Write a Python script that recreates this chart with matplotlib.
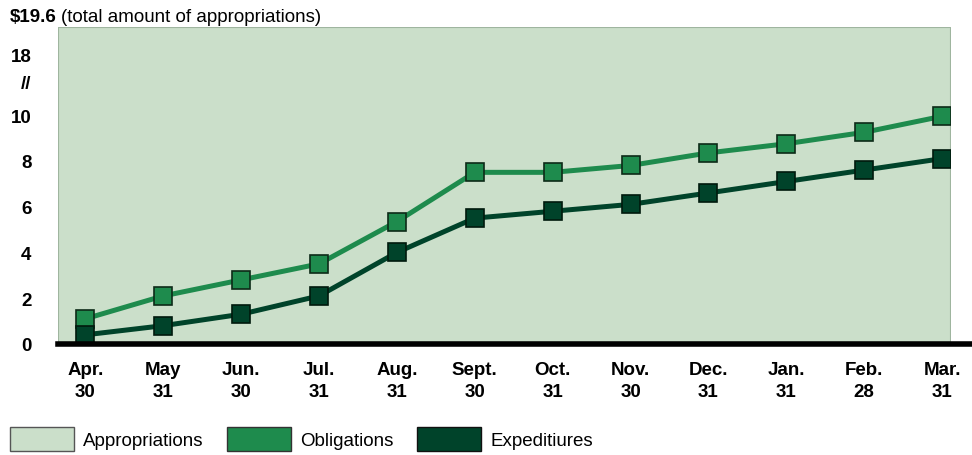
import numpy as np
import matplotlib
matplotlib.use('Agg')
import matplotlib.pyplot as plt
from matplotlib.patches import Patch

# Data (billions of dollars)
months = ['Apr.\n30', 'May\n31', 'Jun.\n30', 'Jul.\n31', 'Aug.\n31', 'Sept.\n30',
          'Oct.\n31', 'Nov.\n30', 'Dec.\n31', 'Jan.\n31', 'Feb.\n28', 'Mar.\n31']
appropriations = 19.6
obligations = [1.1, 2.1, 2.8, 3.5, 5.35, 7.5, 7.5, 7.8, 8.35, 8.75, 9.25, 9.95]
expenditures = [0.4, 0.8, 1.3, 2.1, 4.0, 5.5, 5.8, 6.1, 6.6, 7.1, 7.6, 8.1]
ytick_vals = [0, 2, 4, 6, 8, 10, 14.4, 18]
ytick_labels = ['0', '2', '4', '6', '8', '10', '//', '18']

# Broken y axis: linear up to 10, compressed above
brk_in = [0, 10, 18, 19.6]
brk_out = [0, 10, 12.65, 13.85]


def fwd(v):
    return np.interp(v, brk_in, brk_out)


def inv(v):
    return np.interp(v, brk_out, brk_in)


c_app = '#cbdfca'
c_obl = '#1e8b4d'
c_exp = '#00432a'

plt.rcParams['font.family'] = ['Liberation Sans', 'DejaVu Sans']

fig = plt.figure(figsize=(9.72, 4.56), dpi=100)
ax = fig.add_axes([58 / 972, (456 - 345) / 456, (950 - 58) / 972, (345 - 28) / 456])

x = np.arange(len(months))
xlo, xhi = -0.35, 11.1

ax.set_yscale('function', functions=(fwd, inv))

# Appropriations shaded area
ax.fill_between([xlo, xhi], 0, appropriations, color=c_app, edgecolor='#9fb59f',
                linewidth=0.8, zorder=1)

ax.plot(x, obligations, color=c_obl, lw=3.6, marker='s', ms=12.5,
        mfc=c_obl, mec='#0d2a18', mew=1.2, zorder=3)
ax.plot(x, expenditures, color=c_exp, lw=3.6, marker='s', ms=12.5,
        mfc=c_exp, mec='#001a0d', mew=1.2, zorder=4)

ax.axhline(0, xmin=0, xmax=(970 - 58) / (950 - 58), color='black', lw=4,
           clip_on=False, zorder=5)

ax.set_xlim(xlo, xhi)
ax.set_ylim(0, appropriations)
ax.set_xticks(x)
ax.set_xticklabels(months, fontsize=13.5, fontweight='bold', linespacing=1.4)
ax.set_yticks(ytick_vals)
ax.set_yticklabels(ytick_labels, fontsize=13.5, fontweight='bold')
ax.tick_params(axis='y', length=0, pad=19)
ax.tick_params(axis='x', length=0, pad=12)
ax.yaxis.set_minor_locator(matplotlib.ticker.NullLocator())
for s in ax.spines.values():
    s.set_visible(False)

t1 = fig.text(10 / 972, 1 - 17 / 456, r'\$19.6', fontsize=13.5, fontweight='bold', va='center')
r = fig.canvas.get_renderer()
bb = t1.get_window_extent(renderer=r)
fig.text((bb.x1 + 4) / 972, 1 - 17 / 456, '(total amount of appropriations)', fontsize=13.5,
         va='center')

handles = [Patch(facecolor=c_app, edgecolor='#555555', lw=1, label='Appropriations'),
           Patch(facecolor=c_obl, edgecolor='#333333', lw=1, label='Obligations'),
           Patch(facecolor=c_exp, edgecolor='#111111', lw=1, label='Expeditiures')]
fig.legend(handles=handles, loc='center left', bbox_to_anchor=(10 / 972, (456 - 440) / 456),
           ncol=3, frameon=False, fontsize=13.5, handlelength=3.4, handleheight=1.6,
           handletextpad=0.48, columnspacing=1.28, borderpad=0, borderaxespad=0)

fig.savefig('out.png', dpi=100)
